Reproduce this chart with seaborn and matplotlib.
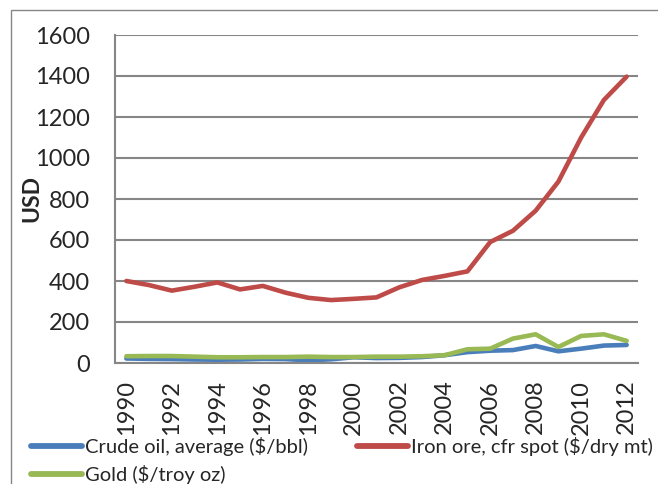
import matplotlib
matplotlib.use("Agg")
import matplotlib.pyplot as plt
from matplotlib.patches import Rectangle
import seaborn as sns
import pandas as pd
import numpy as np

years = list(range(1990, 2013))
crude_oil = [22, 20, 19, 17, 16, 17, 20, 19, 13, 18, 28, 24, 25, 29, 38, 53, 60, 63, 83, 57, 70, 85, 88]
iron_ore = [400, 380, 353, 372, 393, 359, 376, 343, 318, 307, 313, 320, 369, 405, 425, 447,
            590, 645, 743, 885, 1100, 1283, 1397]
gold = [33, 34, 34, 31, 28, 28, 29, 29, 31, 29, 29, 31, 31, 33, 38, 67, 70, 119, 140, 78, 132, 140, 108]

series_names = ["Crude oil, average ($/bbl)", "Iron ore, cfr spot ($/dry mt)", "Gold ($/troy oz)"]
colors = ["#4A7EBB", "#BE4B48", "#98B954"]
y_ticks = [0, 200, 400, 600, 800, 1000, 1200, 1400, 1600]
x_labels = list(range(1990, 2013, 2))

df = pd.DataFrame({
    "year": years * 3,
    "value": crude_oil + iron_ore + gold,
    "series": [series_names[0]] * len(years) + [series_names[1]] * len(years) + [series_names[2]] * len(years),
})

sns.set_style("white")
plt.rcParams["font.family"] = ["Lato", "DejaVu Sans"]

fig = plt.figure(figsize=(6.58, 4.84), dpi=100)
ax = fig.add_axes([115 / 658, 121 / 484, 523 / 658, 328 / 484])

grid_c = "#868686"
sns.lineplot(data=df, x="year", y="value", hue="series", hue_order=series_names,
             palette=colors, linewidth=3.3, ax=ax, legend="auto")
for ln in ax.get_lines():
    ln.set_solid_capstyle("round")
    ln.set_solid_joinstyle("round")

ax.set_xlim(1989.5, 2012.5)
ax.set_ylim(0, 1600)
ax.set_yticks(y_ticks)
ax.set_yticklabels([str(v) for v in y_ticks], fontsize=17)
ax.set_xticks(x_labels)
ax.set_xticklabels([str(v) for v in x_labels], rotation=90, fontsize=17)
ax.set_xticks(np.arange(1989.5, 2013.0, 1.0), minor=True)
ax.tick_params(axis="x", which="major", length=0, pad=12)
ax.tick_params(axis="x", which="minor", length=5, color=grid_c, width=1.3, direction="out")
ax.tick_params(axis="y", which="major", length=6, color=grid_c, width=1.3, direction="out", pad=12)

ax.grid(axis="y", color=grid_c, linewidth=1.5)
ax.grid(axis="x", visible=False)
ax.set_axisbelow(True)
for side in ["top", "right"]:
    ax.spines[side].set_visible(False)
for side in ["left", "bottom"]:
    ax.spines[side].set_color(grid_c)
    ax.spines[side].set_linewidth(1.5)

ax.set_xlabel("")
ax.set_ylabel("USD", fontsize=16.5, fontweight="bold")
ax.yaxis.set_label_coords(-0.1396, 0.5)

handles, labels = ax.get_legend_handles_labels()
ax.get_legend().remove()
order = [0, 2, 1]
for h in handles:
    h.set_linewidth(4.2)
    h.set_solid_capstyle("round")
leg = fig.legend([handles[i] for i in order], [labels[i] for i in order], ncol=2,
                 loc="upper left", bbox_to_anchor=(31 / 658, 1 - 437 / 484),
                 frameon=False, fontsize=14.5, handlelength=2.55, handletextpad=0.15,
                 columnspacing=2.4, labelspacing=0.45, borderaxespad=0, borderpad=0)

fig.patches.append(Rectangle((11 / 658, -0.1), 1.2, 1 - 10 / 484 + 0.1, transform=fig.transFigure,
                             fill=False, edgecolor=grid_c, linewidth=1.0))

fig.savefig("out.png", dpi=100)
